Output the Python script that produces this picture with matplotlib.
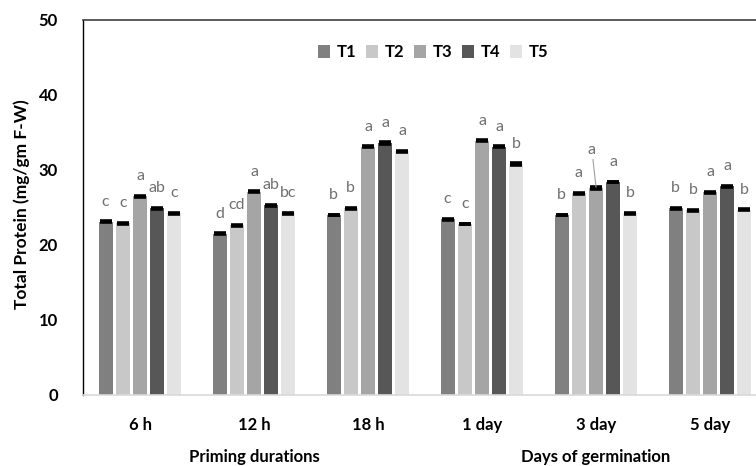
import matplotlib.pyplot as plt
import numpy as np

plt.rcParams['font.family'] = ['Lato', 'DejaVu Sans']

groups = ['6 h', '12 h', '18 h', '1 day', '3 day', '5 day']
treatments = ['T1', 'T2', 'T3', 'T4', 'T5']
colors = ['#808080', '#c8c8c8', '#a5a5a5', '#575757', '#e3e3e3']

# mean protein per treatment, one list per group
T1 = [23.1, 21.5, 24.0, 23.4, 24.0, 24.9]
T2 = [22.9, 22.6, 24.9, 22.8, 26.9, 24.6]
T3 = [26.5, 27.1, 33.1, 33.9, 27.6, 27.0]
T4 = [24.9, 25.3, 33.6, 33.1, 28.4, 27.8]
T5 = [24.2, 24.2, 32.5, 30.8, 24.2, 24.7]
means = [T1, T2, T3, T4, T5]

err_T1 = [0.06, 0.08, 0.06, 0.06, 0.06, 0.06]
err_T2 = [0.05, 0.08, 0.08, 0.06, 0.06, 0.06]
err_T3 = [0.05, 0.05, 0.05, 0.06, 0.10, 0.05]
err_T4 = [0.05, 0.06, 0.08, 0.06, 0.05, 0.06]
err_T5 = [0.06, 0.05, 0.06, 0.15, 0.10, 0.10]
errors = [err_T1, err_T2, err_T3, err_T4, err_T5]

letters_T1 = ['c', 'd', 'b', 'c', 'b', 'b']
letters_T2 = ['c', 'cd', 'b', 'c', 'a', 'b']
letters_T3 = ['a', 'a', 'a', 'a', 'a', 'a']
letters_T4 = ['ab', 'ab', 'a', 'a', 'a', 'a']
letters_T5 = ['c', 'bc', 'a', 'b', 'b', 'b']
letters = [letters_T1, letters_T2, letters_T3, letters_T4, letters_T5]

fig = plt.figure(figsize=(7.56, 4.66), dpi=100)
ax = fig.add_axes([0.1098, 0.1524, 0.9048, 0.8047])

x = np.arange(len(groups))
bar_width = 0.123
step = 0.151

for i, name in enumerate(treatments):
    pos = x + (i - 2) * step
    ax.bar(pos, means[i], bar_width, color=colors[i], label=name, zorder=2)
    ax.errorbar(pos, means[i], yerr=errors[i], fmt='none', ecolor='black',
                elinewidth=2.0, capsize=4.0, capthick=2.6, zorder=3)
    for j, lab in enumerate(letters[i]):
        if i == 2 and j == 4:
            # moved label with leader line
            ax.annotate(lab, xy=(pos[j], means[i][j] + errors[i][j]),
                        xytext=(-3, 22), textcoords='offset points',
                        ha='center', va='bottom', fontsize=11.5, color='#707070',
                        arrowprops=dict(arrowstyle='-', color='#a0a0a0', lw=0.8,
                                        shrinkA=0, shrinkB=0))
        else:
            ax.annotate(lab, xy=(pos[j], means[i][j]), xytext=(0, 9.5),
                        textcoords='offset points', ha='center', va='bottom',
                        fontsize=11.5, color='#707070')

ax.set_xlim(-0.5, 5.5)
ax.set_ylim(0, 50)
ax.set_yticks([0, 10, 20, 30, 40, 50])
ax.set_xticks(x)
ax.set_xticklabels(groups, fontsize=12, fontweight='bold')
for t in ax.get_yticklabels():
    t.set_fontsize(12)
    t.set_fontweight('bold')
ax.tick_params(axis='both', length=0)
ax.tick_params(axis='y', pad=18)
ax.tick_params(axis='x', pad=16)

ax.spines['left'].set_color('black')
ax.spines['left'].set_linewidth(1.0)
ax.spines['top'].set_color('#404040')
ax.spines['top'].set_linewidth(1.2)
ax.spines['bottom'].set_color('#d9d9d9')
ax.spines['bottom'].set_linewidth(1.2)
ax.spines['right'].set_visible(False)

ax.set_ylabel('Total Protein (mg/gm F-W)', fontsize=12.5, fontweight='bold')
ax.yaxis.set_label_coords(-0.078, 0.51)

ax.text(1, -0.165, 'Priming durations', transform=ax.get_xaxis_transform(),
        ha='center', va='center', fontsize=12, fontweight='bold')
ax.text(4, -0.165, 'Days of germination', transform=ax.get_xaxis_transform(),
        ha='center', va='center', fontsize=12, fontweight='bold')

leg = ax.legend(loc='upper center', bbox_to_anchor=(0.512, 0.975), ncol=5, frameon=False,
                prop={'weight': 'bold', 'size': 12}, handlelength=0.75, handleheight=0.75,
                handletextpad=0.4, columnspacing=0.55)

fig.savefig('out.png', dpi=100)
